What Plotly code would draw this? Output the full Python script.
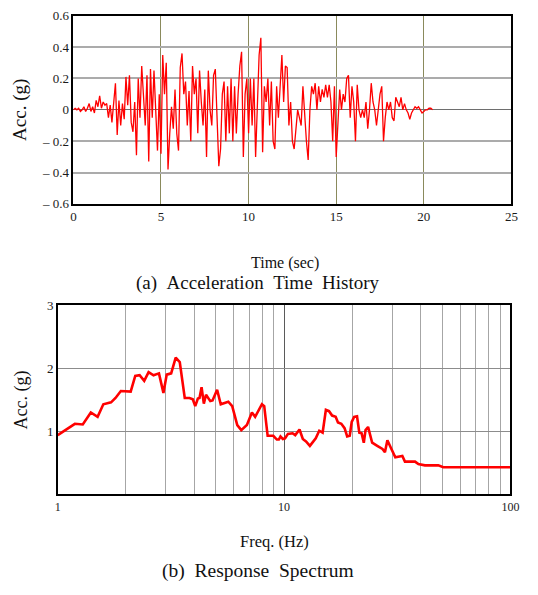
import plotly.graph_objects as go

# ---------------- data ----------------
DT = 0.1  # sampling interval of the digitised record (s)
acc_g = [
    0.00, 0.01, 0.00, 0.01, -0.01, 0.00, 0.02, -0.01, 0.01, 0.04,
    -0.01, 0.02, -0.02, 0.06, 0.02, 0.09, 0.01, 0.05, 0.03, 0.04,
    -0.05, 0.03, -0.08, 0.04, 0.17, -0.16, 0.06, -0.10, 0.04, -0.06,
    0.21, 0.03, 0.22, -0.08, -0.14, 0.05, -0.29, 0.20, -0.05, 0.28,
    0.12, -0.10, 0.22, -0.33, 0.26, -0.05, 0.25, 0.02, -0.26, 0.10,
    -0.28, 0.35, 0.10, 0.30, -0.38, -0.15, 0.02, -0.12, 0.13, -0.15,
    -0.26, 0.27, 0.36, 0.10, 0.18, -0.10, 0.12, -0.20, 0.28, 0.10,
    0.20, -0.15, 0.25, 0.05, -0.10, 0.13, -0.30, 0.25, 0.00, -0.10,
    0.22, 0.26, -0.05, -0.36, -0.25, 0.10, 0.18, -0.20, 0.15, -0.15,
    0.20, -0.20, 0.15, -0.15, 0.10, 0.28, 0.37, -0.30, 0.10, 0.20,
    -0.15, 0.20, -0.10, 0.20, -0.30, 0.08, 0.35, 0.46, -0.27, 0.15,
    0.05, 0.20, -0.10, 0.18, -0.20, -0.25, 0.15, -0.05, 0.20, 0.35,
    0.05, 0.28, 0.27, -0.10, 0.05, -0.20, -0.25, -0.10, 0.00, -0.05,
    -0.10, 0.15, -0.05, -0.20, -0.32, 0.00, 0.15, 0.10, 0.17, 0.00,
    0.15, 0.05, 0.13, 0.08, 0.16, 0.08, 0.16, 0.05, -0.20, 0.15,
    -0.30, -0.10, 0.13, 0.00, 0.10, 0.05, 0.20, 0.22, -0.05, 0.15,
    0.05, -0.20, 0.16, 0.00, -0.05, 0.00, -0.05, 0.05, -0.12, 0.00,
    0.17, 0.05, 0.00, -0.10, 0.00, 0.10, 0.15, -0.20, -0.05, 0.05,
    0.00, 0.05, -0.05, -0.07, 0.08, 0.05, 0.02, 0.08, 0.00, 0.04,
    0.00, -0.02, -0.06, -0.02, 0.00, 0.02, 0.01, 0.02, 0.00, -0.02,
    -0.01, 0.00, 0.00, 0.01, 0.01, 0.00,
]
time_s = [round(i * DT, 2) for i in range(len(acc_g))]

freq_hz = [1.00, 1.19, 1.29, 1.40, 1.50, 1.59, 1.72, 1.80, 1.90, 2.01,
           2.10, 2.20, 2.30, 2.41, 2.52, 2.65, 2.80, 2.93, 3.03, 3.17,
           3.32, 3.46, 3.64, 3.82, 3.95, 4.05, 4.16, 4.23, 4.32, 4.42,
           4.52, 4.72, 4.83, 5.06, 5.25, 5.67, 5.90, 6.21, 6.47, 6.85,
           7.21, 7.45, 7.98, 8.17, 8.46, 8.96, 9.29, 9.48, 9.64, 9.87,
           10.1, 10.4, 10.9, 11.2, 11.7, 12.1, 12.5, 13.0, 13.2, 13.8,
           14.3, 14.8, 15.3, 15.8, 16.3, 16.9, 17.3, 17.9, 18.5, 19.0,
           19.5, 19.9, 20.4, 21.0, 21.5, 22.0, 22.5, 22.9, 23.5, 24.5,
           25.8, 27.2, 27.9, 28.6, 29.8, 31.0, 33.3, 34.2, 37.9, 39.2,
           41.9, 48.0, 50.5, 100.0]
sa_g = [0.94, 1.12, 1.11, 1.30, 1.23, 1.43, 1.46, 1.53, 1.64, 1.64,
        1.63, 1.88, 1.89, 1.80, 1.94, 1.89, 1.92, 1.61, 1.90, 1.92,
        2.17, 2.10, 1.53, 1.53, 1.51, 1.40, 1.52, 1.53, 1.70, 1.44,
        1.58, 1.48, 1.49, 1.66, 1.43, 1.47, 1.40, 1.10, 1.02, 1.10,
        1.30, 1.23, 1.43, 1.40, 0.93, 0.93, 0.87, 0.87, 0.92, 0.88,
        0.89, 0.96, 0.97, 0.94, 1.03, 0.88, 0.84, 0.77, 0.80, 0.89,
        1.01, 0.98, 1.34, 1.32, 1.25, 1.23, 1.14, 1.12, 1.05, 0.92,
        0.93, 1.15, 1.23, 1.24, 0.98, 0.97, 0.82, 1.02, 1.07, 0.82,
        0.77, 0.72, 0.67, 0.86, 0.72, 0.59, 0.61, 0.52, 0.52, 0.48,
        0.46, 0.46, 0.43, 0.43]

acc_tickvals = [-0.6, -0.4, -0.2, 0, 0.2, 0.4, 0.6]
acc_ticktext = ["\u2013 0.6", "\u2013 0.4", "\u2013 0.2", "0", "0.2", "0.4", "0.6"]
time_tickvals = [0, 5, 10, 15, 20, 25]
freq_decades = [1, 10, 100]
freq_ticktext = ["1", "10", "100"]
sa_tickvals = [1, 2, 3]

# ---------------- figure ----------------
W, H = 538, 595
SERIF = "Liberation Serif, Times New Roman, serif"

def px_x(p):
    return p / W

def px_y(p):
    return 1 - p / H

fig = go.Figure()
fig.add_trace(go.Scatter(x=time_s, y=acc_g, mode="lines",
                         line=dict(color="#ff0000", width=1.3),
                         xaxis="x", yaxis="y", showlegend=False))
fig.add_trace(go.Scatter(x=freq_hz, y=sa_g, mode="lines",
                         line=dict(color="#ff0000", width=2.6),
                         xaxis="x2", yaxis="y2", showlegend=False))

tickfont = dict(family=SERIF, size=13, color="#1a1a1a")

fig.update_layout(
    width=W, height=H,
    margin=dict(l=0, r=0, t=0, b=0),
    paper_bgcolor="white", plot_bgcolor="white",
    font=dict(family=SERIF, color="#1a1a1a"),
    xaxis=dict(domain=[px_x(72), px_x(520)], anchor="y", range=[0, 25],
               tickvals=time_tickvals, showgrid=True, gridcolor="#8a8a5c",
               gridwidth=1.3, zeroline=False, showline=True, mirror=True,
               linecolor="black", linewidth=1.5, ticks="", tickfont=tickfont),
    yaxis=dict(domain=[px_y(202), px_y(9)], anchor="x", range=[-0.6, 0.6],
               tickvals=acc_tickvals, ticktext=acc_ticktext, showgrid=True,
               gridcolor="#ababab", gridwidth=1.5, zeroline=True,
               zerolinecolor="#6e6e6e", zerolinewidth=1.3, showline=True,
               mirror=True, linecolor="black", linewidth=1.5, ticks="",
               tickfont=tickfont),
    xaxis2=dict(domain=[px_x(56), px_x(519)], anchor="y2", type="log",
                range=[0, 2], tickmode="array", tickvals=freq_decades,
                ticktext=freq_ticktext,
                showgrid=True, gridcolor="#5a5a5a", gridwidth=1.2,
                minor=dict(showgrid=True, gridcolor="#a6a6a6", gridwidth=1.3,
                           ticks="", dtick="D1", tickmode="linear"),
                zeroline=False, showline=True, mirror=True, linecolor="black",
                linewidth=1.5, ticks="", tickfont=dict(family=SERIF, size=12, color="#1a1a1a")),
    yaxis2=dict(domain=[px_y(500), px_y(306)], anchor="x2", range=[0, 3],
                tickvals=sa_tickvals, showgrid=True, gridcolor="#8c8c8c",
                gridwidth=1.3, zeroline=False, showline=True, mirror=True,
                linecolor="black", linewidth=1.5, ticks="",
                tickfont=dict(family=SERIF, size=13, color="#1a1a1a")),
)

NB = "\u00a0"
annots = [
    dict(text="Acc. (g)", x=px_x(18), y=px_y(106), textangle=-90, size=19),
    dict(text="Time (sec)", x=px_x(288), y=px_y(263), textangle=0, size=16),
    dict(text="(a)" + NB * 2 + "Acceleration" + NB * 2 + "Time" + NB * 2 + "History",
         x=px_x(261), y=px_y(283), textangle=0, size=19),
    dict(text="Acc. (g)", x=px_x(19), y=px_y(403), textangle=-90, size=18),
    dict(text="Freq. (Hz)", x=px_x(278), y=px_y(548), textangle=0, size=16.5),
    dict(text="(b)" + NB * 2 + "Response" + NB * 2 + "Spectrum",
         x=px_x(261), y=px_y(579), textangle=0, size=19.5),
]
for a in annots:
    fig.add_annotation(text=a["text"], x=a["x"], y=a["y"], xref="paper",
                       yref="paper", xanchor="center", yanchor="middle",
                       showarrow=False, textangle=a["textangle"],
                       font=dict(family=SERIF, size=a["size"], color="#111111"))

fig.write_html("out.html")
